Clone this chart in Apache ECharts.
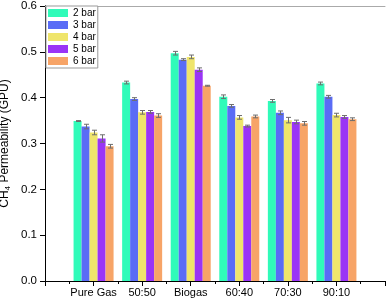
<!DOCTYPE html>
<html>
<head>
<meta charset="utf-8">
<script src="https://cdn.jsdelivr.net/npm/echarts@6/dist/echarts.min.js"></script>
<style>html,body{margin:0;padding:0;background:#fff;}#c{width:387px;height:302px;}</style>
</head>
<body>
<div id="c"></div>
<script>
const categories = ['Pure Gas', '50:50', 'Biogas', '60:40', '70:30', '90:10'];
const seriesNames = ['2 bar', '3 bar', '4 bar', '5 bar', '6 bar'];
const bar2 = [0.349, 0.433, 0.497, 0.402, 0.393, 0.431];
const bar3 = [0.337, 0.397, 0.483, 0.382, 0.367, 0.402];
const bar4 = [0.324, 0.368, 0.489, 0.357, 0.351, 0.362];
const bar5 = [0.311, 0.369, 0.461, 0.338, 0.347, 0.358];
const bar6 = [0.294, 0.361, 0.426, 0.359, 0.344, 0.353];
const err2 = [0.001, 0.003, 0.004, 0.004, 0.003, 0.003];
const err3 = [0.005, 0.003, 0.002, 0.003, 0.004, 0.003];
const err4 = [0.005, 0.004, 0.004, 0.004, 0.006, 0.004];
const err5 = [0.008, 0.003, 0.004, 0.002, 0.004, 0.003];
const err6 = [0.004, 0.004, 0.001, 0.003, 0.004, 0.003];
const yTicks = [0, 0.1, 0.2, 0.3, 0.4, 0.5, 0.6];

const colors = ['#30FBB9', '#5A6CF6', '#EFE56B', '#9A34F6', '#F7A467'];
const values = [bar2, bar3, bar4, bar5, bar6];
const errors = [err2, err3, err4, err5, err6];
const BW = 8;

const series = [];
values.forEach((vals, i) => {
  series.push({
    name: seriesNames[i],
    type: 'bar',
    barWidth: BW,
    barGap: '0%',
    itemStyle: { color: colors[i] },
    data: vals.map((v, k) => [k + 1, v]),
    z: 2
  });
});
values.forEach((vals, i) => {
  const off = (i - 2) * BW;
  series.push({
    type: 'custom',
    name: 'err' + i,
    z: 5,
    silent: true,
    encode: { x: 0, y: [1, 2] },
    data: vals.map((v, k) => [k + 1, v - errors[i][k], v + errors[i][k]]),
    renderItem: function (params, api) {
      const x = api.value(0);
      const lo = api.coord([x, api.value(1)]);
      const hi = api.coord([x, api.value(2)]);
      const cx = Math.round(lo[0] + off) + 0.5;
      const st = { stroke: '#6e6e6e', lineWidth: 1 };
      return {
        type: 'group',
        children: [
          { type: 'line', shape: { x1: cx, y1: lo[1], x2: cx, y2: hi[1] }, style: st },
          { type: 'line', shape: { x1: cx - 2.5, y1: hi[1], x2: cx + 2.5, y2: hi[1] }, style: st },
          { type: 'line', shape: { x1: cx - 2.5, y1: lo[1], x2: cx + 2.5, y2: lo[1] }, style: st }
        ]
      };
    }
  });
});

const chart = echarts.init(document.getElementById('c'), null, { renderer: 'canvas' });
chart.setOption({
  animation: false,
  backgroundColor: '#fff',
  textStyle: { fontFamily: 'Liberation Sans, Arial, sans-serif' },
  legend: {
    data: seriesNames,
    orient: 'vertical',
    left: 46,
    top: 6,
    padding: [2, 2, 2, 2],
    itemWidth: 20,
    itemHeight: 8,
    itemGap: 2,
    icon: 'rect',
    borderColor: '#999',
    borderWidth: 1,
    backgroundColor: '#fff',
    textStyle: { fontSize: 10, color: '#000', lineHeight: 9, fontFamily: 'Liberation Sans, Arial, sans-serif' }
  },
  grid: { left: 45, right: 2, top: 6, bottom: 21, containLabel: false, outerBoundsMode: 'none' },
  xAxis: [{
    type: 'value',
    min: 0,
    max: 7,
    interval: 1,
    axisLine: { show: true, lineStyle: { color: '#000', width: 1 } },
    axisTick: { show: true, length: 5, lineStyle: { color: '#000' } },
    minorTick: { show: true, splitNumber: 2, length: 3, lineStyle: { color: '#000' } },
    splitLine: { show: false },
    axisLabel: {
      color: '#000', fontSize: 11, margin: 6,
      formatter: function (v) { return (v >= 1 && v <= categories.length) ? categories[v - 1] : ''; }
    }
  }, {
    type: 'value', position: 'top', min: 0, max: 7,
    axisLine: { show: true, onZero: false, lineStyle: { color: '#aaa', width: 1 } },
    axisTick: { show: false }, axisLabel: { show: false }, splitLine: { show: false }
  }],
  yAxis: [{
    type: 'value',
    min: 0,
    max: 0.6,
    interval: 0.1,
    name: '{a|CH}{b|4}{a| Permeability (GPU)}',
    nameLocation: 'middle',
    nameGap: 33,
    nameMoveOverlap: false,
    nameTextStyle: {
      rich: {
        a: { fontSize: 12, color: '#000', fontFamily: 'Liberation Sans, Arial, sans-serif' },
        b: { fontSize: 8, color: '#000', padding: [6, 0, 0, 0], fontFamily: 'Liberation Sans, Arial, sans-serif' }
      }
    },
    axisLine: { show: true, lineStyle: { color: '#000', width: 1 } },
    axisTick: { show: true, length: 5, lineStyle: { color: '#000' } },
    splitLine: { show: false },
    axisLabel: {
      color: '#000', fontSize: 11.5, margin: 8,
      formatter: function (v) { return v.toFixed(1); }
    }
  }, {
    type: 'value', position: 'right', min: 0, max: 0.6,
    axisLine: { show: true, lineStyle: { color: '#000', width: 1 } },
    axisTick: { show: false }, axisLabel: { show: false }, splitLine: { show: false }
  }],
  series: series
});
</script>
</body>
</html>
